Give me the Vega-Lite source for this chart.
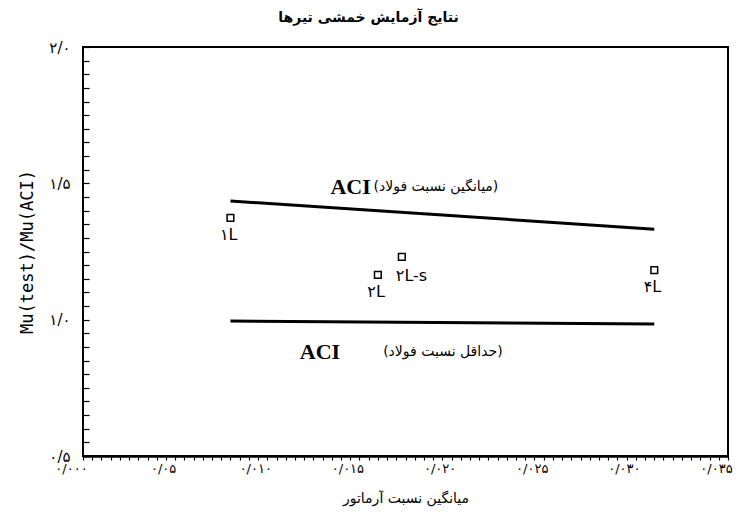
{
  "$schema": "https://vega.github.io/schema/vega-lite/v6.json",
  "width": 645,
  "height": 409,
  "autosize": {"type": "none"},
  "padding": {"left": 83, "top": 47, "right": 15, "bottom": 73},
  "background": "white",
  "config": {
    "view": {"stroke": "black", "strokeWidth": 2},
    "axis": {
      "labelColor": "black",
      "titleColor": "black",
      "grid": false,
      "labelOverlap": false,
      "labelBound": false,
      "labelFlush": false
    }
  },
  "title": {
    "text": "نتایج آزمایش خمشی تیرها",
    "font": "DejaVu Sans",
    "fontSize": 14,
    "fontWeight": "bold",
    "color": "black",
    "anchor": "middle",
    "dx": -37,
    "offset": 15
  },
  "datasets": {
    "points": [
      {"id": "L1", "ratio": 0.008, "mu": 1.373, "label": "۱L"},
      {"id": "L2", "ratio": 0.016, "mu": 1.164, "label": "۲L"},
      {"id": "L2-s", "ratio": 0.0173, "mu": 1.23, "label": "۲L-s"},
      {"id": "L4", "ratio": 0.031, "mu": 1.182, "label": "۴L"}
    ],
    "lines": [
      {"line": "avg", "ratio": 0.008, "mu": 1.435},
      {"line": "avg", "ratio": 0.031, "mu": 1.332},
      {"line": "min", "ratio": 0.008, "mu": 0.995},
      {"line": "min", "ratio": 0.031, "mu": 0.984}
    ],
    "notes": [
      {"part": "code", "ratio": 0.01452, "mu": 1.487, "text": "ACI"},
      {"part": "desc", "ratio": 0.01915, "mu": 1.487, "text": "(میانگین نسبت فولاد)"},
      {"part": "code", "ratio": 0.01286, "mu": 0.883, "text": "ACI"},
      {"part": "desc", "ratio": 0.01953, "mu": 0.883, "text": "(حداقل نسبت فولاد)"}
    ]
  },
  "encoding": {
    "x": {
      "field": "ratio",
      "type": "quantitative",
      "scale": {"domain": [0, 0.035], "nice": false, "zero": false},
      "axis": {
        "title": "میانگین نسبت آرماتور",
        "titleFont": "DejaVu Sans",
        "titleFontSize": 14,
        "titleFontWeight": "normal",
        "titlePadding": 16,
        "labelFont": "DejaVu Sans",
        "labelFontSize": 13,
        "domain": true,
        "domainColor": "black",
        "domainWidth": 2.5,
        "ticks": true,
        "tickSize": 4,
        "tickColor": "black",
        "tickWidth": 1.2,
        "labelPadding": 2,
        "labelOffset": -12,
        "values": [0, 0.0005, 0.001, 0.0015, 0.002, 0.0025, 0.003, 0.0035, 0.004, 0.0045, 0.005, 0.0055, 0.006, 0.0065, 0.007, 0.0075, 0.008, 0.0085, 0.009, 0.0095, 0.01, 0.0105, 0.011, 0.0115, 0.012, 0.0125, 0.013, 0.0135, 0.014, 0.0145, 0.015, 0.0155, 0.016, 0.0165, 0.017, 0.0175, 0.018, 0.0185, 0.019, 0.0195, 0.02, 0.0205, 0.021, 0.0215, 0.022, 0.0225, 0.023, 0.0235, 0.024, 0.0245, 0.025, 0.0255, 0.026, 0.0265, 0.027, 0.0275, 0.028, 0.0285, 0.029, 0.0295, 0.03, 0.0305, 0.031, 0.0315, 0.032, 0.0325, 0.033, 0.0335, 0.034, 0.0345, 0.035],
        "labelExpr": "round(datum.value*10000)==0?'۰/۰۰۰':round(datum.value*10000)==50?'۰/۰۵':round(datum.value*10000)==100?'۰/۰۱۰':round(datum.value*10000)==150?'۰/۰۱۵':round(datum.value*10000)==200?'۰/۰۲۰':round(datum.value*10000)==250?'۰/۰۲۵':round(datum.value*10000)==300?'۰/۰۳۰':round(datum.value*10000)==350?'۰/۰۳۵':''"
      }
    },
    "y": {
      "field": "mu",
      "type": "quantitative",
      "scale": {"domain": [0.5, 2.0], "nice": false, "zero": false},
      "axis": {
        "title": "Mu(test)/Mu(ACI)",
        "titleFont": "DejaVu Sans Mono",
        "titleFontSize": 17,
        "titleFontWeight": "normal",
        "titlePadding": 12,
        "labelFont": "DejaVu Sans",
        "labelFontSize": 15,
        "domain": false,
        "offset": -6,
        "ticks": true,
        "tickSize": 6,
        "tickColor": "black",
        "tickWidth": 1.2,
        "labelPadding": 13,
        "values": [0.5, 0.55, 0.6, 0.65, 0.7, 0.75, 0.8, 0.85, 0.9, 0.95, 1.0, 1.05, 1.1, 1.15, 1.2, 1.25, 1.3, 1.35, 1.4, 1.45, 1.5, 1.55, 1.6, 1.65, 1.7, 1.75, 1.8, 1.85, 1.9, 1.95, 2.0],
        "labelExpr": "round(datum.value*100)==50?'۰/۵':round(datum.value*100)==100?'۱/۰':round(datum.value*100)==150?'۱/۵':round(datum.value*100)==200?'۲/۰':''"
      }
    }
  },
  "layer": [
    {
      "data": {"name": "lines"},
      "mark": {"type": "line", "color": "black", "strokeWidth": 3},
      "encoding": {"detail": {"field": "line"}}
    },
    {
      "data": {"name": "points"},
      "mark": {"type": "point", "shape": "square", "filled": false, "size": 45, "stroke": "black", "strokeWidth": 1.5, "opacity": 1}
    },
    {
      "data": {"name": "points"},
      "transform": [{"filter": "datum.id != 'L2-s'"}],
      "mark": {"type": "text", "font": "DejaVu Sans", "fontSize": 16, "align": "right", "baseline": "middle", "dx": 7, "dy": 17, "color": "black"},
      "encoding": {"text": {"field": "label"}}
    },
    {
      "data": {"name": "points"},
      "transform": [{"filter": "datum.id == 'L2-s'"}],
      "mark": {"type": "text", "font": "DejaVu Sans", "fontSize": 16, "align": "left", "baseline": "middle", "dx": -6, "dy": 19, "color": "black"},
      "encoding": {"text": {"field": "label"}}
    },
    {
      "data": {"name": "notes"},
      "transform": [{"filter": "datum.part == 'code'"}],
      "mark": {"type": "text", "font": "Liberation Serif", "fontSize": 22, "fontWeight": "bold", "align": "center", "baseline": "middle", "color": "black"},
      "encoding": {"text": {"field": "text"}}
    },
    {
      "data": {"name": "notes"},
      "transform": [{"filter": "datum.part == 'desc'"}],
      "mark": {"type": "text", "font": "DejaVu Sans", "fontSize": 14, "align": "center", "baseline": "middle", "color": "black"},
      "encoding": {"text": {"field": "text"}}
    }
  ]
}
